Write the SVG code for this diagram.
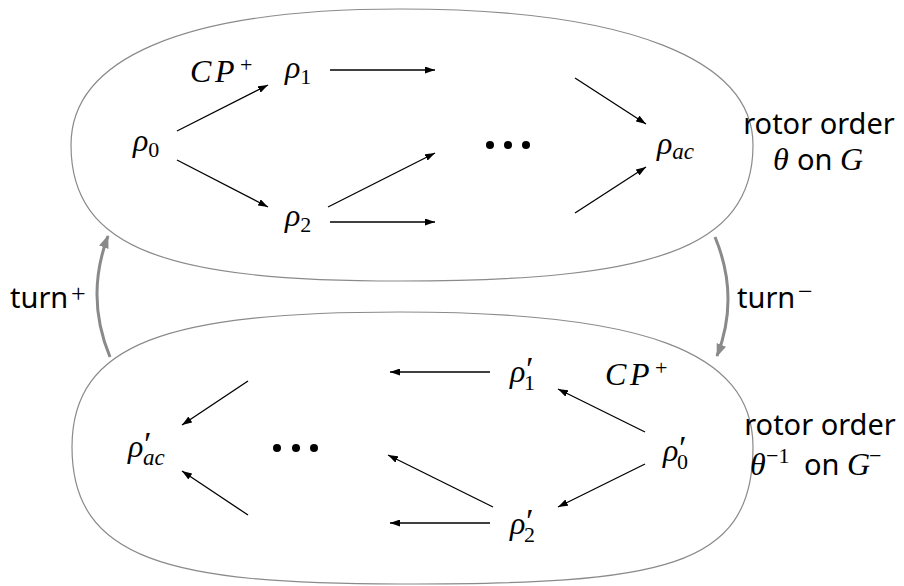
<svg xmlns="http://www.w3.org/2000/svg" width="904" height="586" viewBox="0 0 904 586">
<style>
.blob{fill:none;stroke:#8a8a8a;stroke-width:1.2}
.e{fill:none;stroke:#000;stroke-width:1.3;marker-end:url(#ah)}
.t{fill:none;stroke:#8a8a8a;stroke-width:3;marker-end:url(#gh)}
.m{font-family:"Liberation Serif","DejaVu Serif",serif;font-style:italic;font-size:32px;fill:#000}
.s{font-family:"Liberation Serif","DejaVu Serif",serif;font-style:normal;font-size:22px}
.sp{font-family:"Liberation Serif","DejaVu Serif",serif;font-style:normal;font-size:26px}
.pr{font-family:"Liberation Serif","DejaVu Serif",serif;font-style:italic;font-size:34px}
.si{font-family:"Liberation Serif","DejaVu Serif",serif;font-style:italic;font-size:23px}
.sans{font-family:"Noto Sans","Open Sans","DejaVu Sans",sans-serif;font-size:29px;fill:#000}
.dot{fill:#000}
</style>
<defs>
<marker id="ah" markerUnits="userSpaceOnUse" viewBox="0 0 10 7" markerWidth="10" markerHeight="7" refX="10" refY="3.5" orient="auto"><path d="M0,0 L10,3.5 L0,7 z" fill="#000"/></marker>
<marker id="gh" markerUnits="userSpaceOnUse" viewBox="0 0 13 10" markerWidth="13" markerHeight="10" refX="12" refY="5" orient="auto"><path d="M0,0 L13,5 L0,10 z" fill="#8a8a8a"/></marker>
</defs>
<rect width="904" height="586" fill="#fff"/>
<g id="blob-top">
<path class="blob" d="M71,145 C71,60 180,9 400,9 C630,9 753,60 753,145 C753,250 650,281 400,281 C170,281 71,250 71,145 Z"/>
</g>
<g id="blob-bottom">
<path class="blob" d="M72,447 C72,342 170,312 400,312 C640,312 753,350 753,447 C753,570 660,584 400,584 C170,584 72,560 72,447 Z"/>
</g>
<g id="connectors">
<line class="e" x1="177" y1="131" x2="268" y2="85"/>
<line class="e" x1="177" y1="160" x2="268" y2="207"/>
<line class="e" x1="330" y1="70" x2="435" y2="70"/>
<line class="e" x1="328" y1="207" x2="435" y2="153"/>
<line class="e" x1="330" y1="222" x2="435" y2="222"/>
<line class="e" x1="575" y1="78" x2="646" y2="124"/>
<line class="e" x1="575" y1="213" x2="646" y2="167"/>
<line class="e" x1="490" y1="372" x2="390" y2="372"/>
<line class="e" x1="490" y1="523" x2="390" y2="523"/>
<line class="e" x1="493" y1="507" x2="388" y2="455"/>
<line class="e" x1="248" y1="381" x2="182" y2="425"/>
<line class="e" x1="248" y1="515" x2="182" y2="471"/>
<line class="e" x1="645" y1="432" x2="558" y2="389"/>
<line class="e" x1="645" y1="464" x2="558" y2="507"/>
<path id="turn-plus" class="t" d="M110,357 Q85,297 108,236"/>
<path id="turn-minus" class="t" d="M715,237 Q740,297 717,356"/>
</g>
<g id="node-rho0"><text class="m" x="133" y="151">ρ<tspan class="s" dy="6">0</tspan></text></g>
<g id="node-rho1"><text class="m" x="285" y="78">ρ<tspan class="s" dy="6">1</tspan></text></g>
<g id="node-rho2"><text class="m" x="285" y="226">ρ<tspan class="s" dy="6">2</tspan></text></g>
<g id="node-rhoac"><text class="m" x="657" y="154">ρ<tspan class="si" dy="5">ac</tspan></text></g>
<g id="node-dots-top"><circle class="dot" cx="490" cy="145" r="4"/><circle class="dot" cx="508" cy="145" r="4"/><circle class="dot" cx="526" cy="145" r="4"/></g>
<g id="label-cp-top"><text class="m" x="190" y="82">C<tspan x="215">P</tspan><tspan class="s" x="240" y="72">+</tspan></text></g>
<g id="node-rho1p"><text class="m" x="510" y="382">ρ<tspan class="pr" x="524" y="380">′</tspan><tspan class="s" x="524" y="390">1</tspan></text></g>
<g id="node-rho2p"><text class="m" x="510" y="534">ρ<tspan class="pr" x="524" y="532">′</tspan><tspan class="s" x="524" y="542">2</tspan></text></g>
<g id="node-rho0p"><text class="m" x="663" y="461">ρ<tspan class="pr" x="677" y="459">′</tspan><tspan class="s" x="677" y="469">0</tspan></text></g>
<g id="node-rhoacp"><text class="m" x="128" y="457">ρ<tspan class="pr" x="142" y="455">′</tspan><tspan class="si" x="143" y="465">ac</tspan></text></g>
<g id="node-dots-bottom"><circle class="dot" cx="277" cy="448" r="4"/><circle class="dot" cx="296" cy="448" r="4"/><circle class="dot" cx="314" cy="448" r="4"/></g>
<g id="label-cp-bottom"><text class="m" x="605" y="385">C<tspan x="630">P</tspan><tspan class="s" x="655" y="375">+</tspan></text></g>
<g id="label-top-right">
<text class="sans" x="819" y="134" text-anchor="middle">rotor order</text>
<text class="m" x="773" y="170">θ</text><text class="sans" x="797" y="170">on</text><text class="m" x="840" y="170">G</text>
</g>
<g id="label-bottom-right">
<text class="sans" x="820" y="435" text-anchor="middle">rotor order</text>
<text class="m" x="750" y="475">θ<tspan class="s" x="766" y="463">−1</tspan></text><text class="sans" x="804" y="475">on</text><text class="m" x="847" y="475">G<tspan class="s" x="869" y="463">−</tspan></text>
</g>
<g id="label-turn-plus"><text class="sans" x="10" y="308">turn<tspan class="sp" x="71" y="302">+</tspan></text></g>
<g id="label-turn-minus"><text class="sans" x="737" y="308">turn<tspan class="sp" x="798" y="300">−</tspan></text></g>
</svg>
